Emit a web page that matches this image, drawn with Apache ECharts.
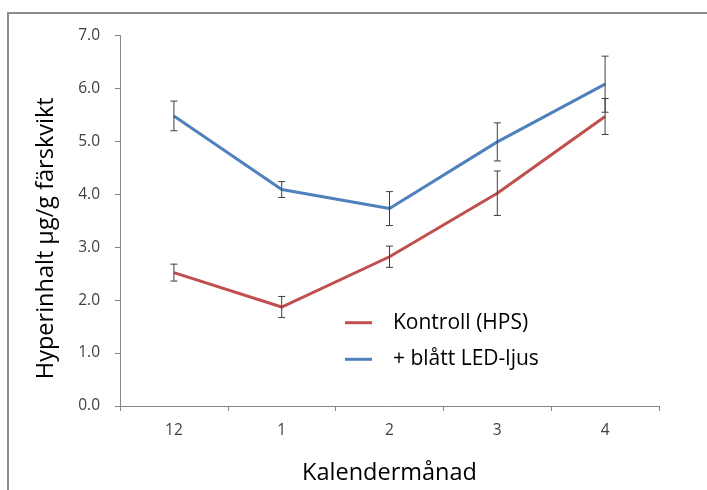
<!DOCTYPE html>
<html>
<head>
<meta charset="utf-8">
<script src="https://cdn.jsdelivr.net/npm/echarts@6/dist/echarts.min.js"></script>
<style>
  html, body { margin: 0; padding: 0; background: #fff; }
  #chart { width: 707px; height: 490px; }
</style>
</head>
<body>
<div id="chart"></div>
<script>
// Månader och medelvärden (µg/g färskvikt) med standardfel
const months = ['12', '1', '2', '3', '4'];
const kontroll = [2.52, 1.87, 2.82, 4.02, 5.47];
const kontrollErr = [0.16, 0.20, 0.20, 0.42, 0.34];
const blaLed = [5.48, 4.09, 3.73, 4.99, 6.08];
const blaLedErr = [0.28, 0.15, 0.32, 0.36, 0.53];
const yTicks = { min: 0, max: 7, interval: 1 };

const FONT = 'Open Sans';
const RED = '#C0504D';
const BLUE = '#4F81BD';

function errorData(means, errs) {
  return means.map((m, i) => [i, m - errs[i], m + errs[i]]);
}

function renderErrorBar(params, api) {
  const i = api.value(0);
  const lo = api.coord([i, api.value(1)]);
  const hi = api.coord([i, api.value(2)]);
  const half = 3.5;
  const style = { stroke: '#3f3f3f', lineWidth: 1 };
  return {
    type: 'group',
    children: [
      { type: 'line', shape: { x1: lo[0], y1: lo[1], x2: hi[0], y2: hi[1] }, style },
      { type: 'line', shape: { x1: hi[0] - half, y1: hi[1], x2: hi[0] + half, y2: hi[1] }, style },
      { type: 'line', shape: { x1: lo[0] - half, y1: lo[1], x2: lo[0] + half, y2: lo[1] }, style }
    ]
  };
}

const chart = echarts.init(document.getElementById('chart'), null, { renderer: 'canvas' });

chart.setOption({
  animation: false,
  backgroundColor: '#ffffff',
  textStyle: { fontFamily: FONT },
  graphic: [
    {
      type: 'polyline',
      shape: { points: [[8, 500], [8, 13], [720, 13]] },
      style: { stroke: '#8c8c8c', lineWidth: 2, fill: null },
      silent: true
    }
  ],
  grid: { left: 120, right: 48, top: 35.5, bottom: 82.5, containLabel: false },
  legend: {
    orient: 'vertical',
    left: 345,
    top: 310.7,
    padding: 0,
    itemWidth: 27,
    itemHeight: 3,
    itemGap: 12.6,
    icon: 'rect',
    data: ['Kontroll (HPS)', '+ blått LED-ljus'],
    textStyle: {
      fontFamily: FONT,
      fontSize: 21,
      color: '#000',
      lineHeight: 24,
      padding: [0, 0, 0, 16]
    }
  },
  xAxis: {
    type: 'category',
    data: months,
    boundaryGap: true,
    name: 'Kalendermånad',
    nameLocation: 'middle',
    nameGap: 55,
    nameTextStyle: { fontFamily: FONT, fontSize: 23.5, color: '#000' },
    axisLine: { lineStyle: { color: '#868686', width: 1 } },
    axisTick: { show: true, length: 5, lineStyle: { color: '#868686' } },
    axisLabel: { fontFamily: FONT, fontSize: 15.5, color: '#404040', margin: 17 },
    splitLine: { show: false }
  },
  yAxis: {
    type: 'value',
    min: yTicks.min,
    max: yTicks.max,
    interval: yTicks.interval,
    name: 'Hyperinhalt µg/g färskvikt',
    nameLocation: 'middle',
    nameGap: 62,
    nameRotate: 90,
    nameTextStyle: {
      fontFamily: FONT, fontSize: 23.5, color: '#000',
      padding: [0, 35, 0, 0]
    },
    axisLine: { show: true, lineStyle: { color: '#868686', width: 1 } },
    axisTick: { show: true, length: 5, lineStyle: { color: '#868686' } },
    axisLabel: {
      fontFamily: FONT, fontSize: 15.5, color: '#404040', margin: 20,
      formatter: v => v.toFixed(1)
    },
    splitLine: { show: false }
  },
  series: [
    {
      name: 'Kontroll (HPS)',
      type: 'line',
      data: kontroll,
      showSymbol: false,
      symbol: 'none',
      color: RED,
      lineStyle: { color: RED, width: 3 },
      z: 2
    },
    {
      name: '+ blått LED-ljus',
      type: 'line',
      data: blaLed,
      showSymbol: false,
      symbol: 'none',
      color: BLUE,
      lineStyle: { color: BLUE, width: 3 },
      z: 2
    },
    {
      name: 'Kontroll SE',
      type: 'custom',
      renderItem: renderErrorBar,
      data: errorData(kontroll, kontrollErr),
      encode: { x: 0, y: [1, 2] },
      silent: true,
      z: 5
    },
    {
      name: 'LED SE',
      type: 'custom',
      renderItem: renderErrorBar,
      data: errorData(blaLed, blaLedErr),
      encode: { x: 0, y: [1, 2] },
      silent: true,
      z: 5
    }
  ]
});
</script>
</body>
</html>
